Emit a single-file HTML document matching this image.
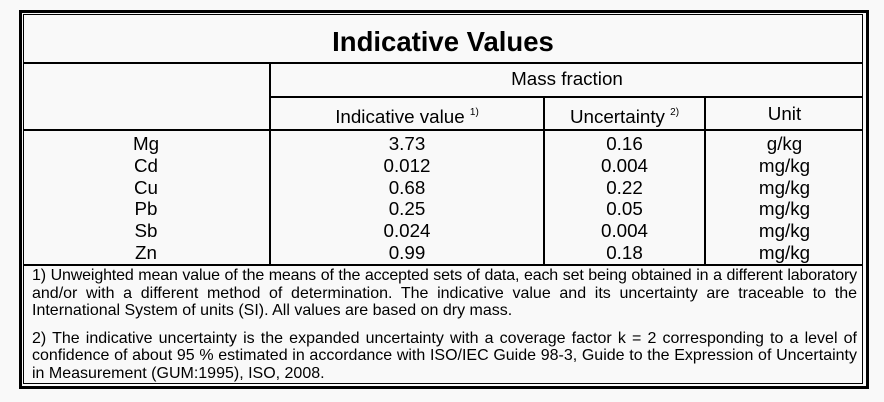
<!DOCTYPE html>
<html><head><meta charset="utf-8"><style>
body{margin:0;width:884px;height:402px;background:#f9f9f9;font-family:"Liberation Sans",Arial,sans-serif;color:#000;position:relative;overflow:hidden}
.l{position:absolute;background:#000}
.t{position:absolute;white-space:nowrap;text-align:center;font-size:18.8px;line-height:20px}
.f{position:absolute;left:32px;width:825px;font-size:16px;line-height:17.6px;white-space:nowrap}
.j{text-align:justify;text-align-last:justify}
sup{font-size:10px;vertical-align:8px}
</style></head><body>
<div class="l" style="left:19px;top:10px;width:850px;height:3px"></div>
<div class="l" style="left:19px;top:386px;width:850px;height:3px"></div>
<div class="l" style="left:19px;top:10px;width:3px;height:379px"></div>
<div class="l" style="left:866px;top:10px;width:3px;height:379px"></div>
<div class="l" style="left:23px;top:14px;width:840px;height:1px"></div>
<div class="l" style="left:23px;top:383px;width:840px;height:1px"></div>
<div class="l" style="left:23px;top:14px;width:1px;height:370px"></div>
<div class="l" style="left:862px;top:14px;width:1px;height:370px"></div>
<div class="l" style="left:23px;top:62px;width:840px;height:2px"></div>
<div class="l" style="left:270px;top:96px;width:593px;height:2px"></div>
<div class="l" style="left:23px;top:129px;width:840px;height:2px"></div>
<div class="l" style="left:23px;top:264px;width:840px;height:2px"></div>
<div class="l" style="left:269px;top:62px;width:2px;height:203px"></div>
<div class="l" style="left:543px;top:97px;width:2px;height:168px"></div>
<div class="l" style="left:704px;top:97px;width:2px;height:168px"></div>

<div class="t" style="left:23px;width:840px;top:26px;font-size:27.5px;line-height:32px;font-weight:bold">Indicative Values</div>
<div class="t" style="left:271px;width:592px;top:69px">Mass fraction</div>
<div class="t" style="left:271px;width:272px;top:103px">Indicative value <sup>1)</sup></div>
<div class="t" style="left:545px;width:159px;top:103px">Uncertainty <sup>2)</sup></div>
<div class="t" style="left:706px;width:157px;top:104px">Unit</div>

<div class="t" style="left:23px;width:246px;top:133px;line-height:21.8px">Mg<br>Cd<br>Cu<br>Pb<br>Sb<br>Zn</div>
<div class="t" style="left:271px;width:272px;top:133px;line-height:21.8px">3.73<br>0.012<br>0.68<br>0.25<br>0.024<br>0.99</div>
<div class="t" style="left:545px;width:159px;top:133px;line-height:21.8px">0.16<br>0.004<br>0.22<br>0.05<br>0.004<br>0.18</div>
<div class="t" style="left:706px;width:157px;top:133px;line-height:21.8px">g/kg<br>mg/kg<br>mg/kg<br>mg/kg<br>mg/kg<br>mg/kg</div>

<div class="f j" style="top:267px;letter-spacing:-0.15px">1) Unweighted mean value of the means of the accepted sets of data, each set being obtained in a different laboratory</div>
<div class="f j" style="top:285px">and/or with a different method of determination. The indicative value and its uncertainty are traceable to the</div>
<div class="f" style="top:302px">International System of units (SI). All values are based on dry mass.</div>
<div class="f j" style="top:330px">2) The indicative uncertainty is the expanded uncertainty with a coverage factor k = 2 corresponding to a level of</div>
<div class="f j" style="top:347px">confidence of about 95 % estimated in accordance with ISO/IEC Guide 98-3, Guide to the Expression of Uncertainty</div>
<div class="f" style="top:365px">in Measurement (GUM:1995), ISO, 2008.</div>
</body></html>
